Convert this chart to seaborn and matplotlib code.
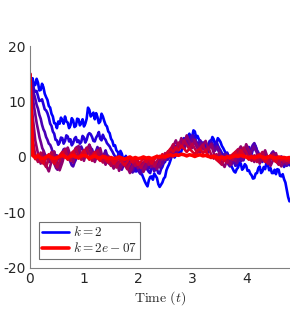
import numpy as np
import pandas as pd
import matplotlib
matplotlib.use("Agg")
import matplotlib.pyplot as plt
import seaborn as sns

# every trajectory is sampled evenly on [0, t_end]
t_end = 4.8

k_labels = ["2", "2e-01", "2e-02", "2e-03", "2e-04", "2e-05", "2e-06", "2e-07"]

y_k0 = [15.0, 13.6, 14.2, 12.9, 13.0, 14.1, 13.4, 12.0, 12.1, 13.2, 12.6, 11.4, 10.8, 10.3, 9.2, 8.9,
        7.8, 7.3, 6.1, 6.0, 5.2, 6.4, 6.0, 7.1, 6.6, 6.0, 7.3, 6.4, 6.2, 5.2, 5.7, 7.0, 6.6, 5.4,
        5.6, 6.9, 6.8, 5.7, 6.1, 6.8, 5.5, 6.0, 6.9, 8.9, 8.5, 7.3, 7.6, 8.0, 6.8, 7.9, 7.2, 6.1,
        6.4, 7.8, 7.3, 6.5, 5.8, 5.5, 4.6, 4.3, 3.3, 2.9, 2.0, 2.1, 1.2, 0.9, 0.3, 1.1, 0.6, -0.4,
        -0.5, 0.2, -1.1, -1.4, -0.4, -0.9, -1.6, -1.2, -2.1, -2.6, -1.7, -2.2, -2.9, -3.2, -3.8,
        -4.4, -4.9, -5.3, -4.2, -3.6, -3.5, -4.1, -3.0, -3.4, -3.8, -4.9, -5.4, -5.0, -4.6, -3.9,
        -3.6, -2.4, -1.8, -1.3, -0.6, 0.2, 0.8, -0.1, 0.3, 1.4, 1.2, 0.4, 1.0, 1.9, 2.4, 2.2, 3.1,
        3.8, 4.2, 3.3, 3.6, 4.8, 4.6, 3.5, 3.8, 3.2, 2.7, 1.9, 1.5, 2.6, 2.2, 1.0, 0.9, 2.1, 2.8,
        3.6, 3.2, 2.1, 2.4, 3.4, 3.1, 2.7, 2.0, 1.6, 1.1, 0.7, 0.2, -0.1, -0.9, -1.6, -2.1, -2.6,
        -2.8, -2.2, -1.9, -1.0, -1.2, -2.3, -2.0, -1.3, -1.6, -2.5, -2.4, -3.0, -3.3, -3.9, -3.8,
        -3.0, -2.9, -2.0, -1.7, -2.9, -2.6, -1.8, -2.2, -1.0, -1.3, -2.4, -2.0, -2.9, -2.9, -2.3,
        -3.1, -2.2, -2.3, -3.4, -3.5, -3.1, -4.0, -4.6, -5.9, -7.2, -8.0]
y_k1 = [15.0, 14.1, 13.5, 12.2, 11.8, 11.9, 11.0, 10.1, 10.2, 10.4, 9.5, 8.6, 8.4, 7.9, 7.1, 6.0,
        5.6, 4.6, 4.2, 3.1, 3.0, 2.2, 2.6, 3.5, 3.4, 2.4, 2.9, 3.9, 3.7, 2.8, 3.2, 2.1, 2.5, 3.3,
        3.6, 2.7, 3.0, 2.4, 2.7, 3.8, 3.5, 2.6, 3.1, 4.0, 4.3, 4.1, 3.6, 2.9, 2.8, 3.5, 3.9, 4.5,
        3.3, 3.0, 4.0, 3.4, 3.1, 2.5, 2.2, 1.9, 1.4, 1.0, 0.5, 0.1, -0.3, 0.2, 0.6, -0.4, -0.8,
        -1.1, -1.5, -0.4, -0.7, -1.4, -2.0, -1.6, -1.4, -2.5, -2.6, -2.1, -1.9, -2.8, -3.1, -2.0,
        -2.4, -1.5, -1.6, -2.3, -2.7, -2.9, -2.0, -1.2, -1.1, -1.8, -2.2, -2.9, -3.0, -2.2, -1.8,
        -1.1, -0.9, -0.2, 0.4, 1.0, 1.3, 0.5, 0.6, 1.5, 2.0, 1.3, 1.5, 2.3, 2.7, 3.1, 3.4, 2.6,
        2.2, 3.0, 3.8, 3.3, 2.9, 3.9, 3.6, 2.8, 2.5, 2.1, 1.7, 2.4, 2.6, 1.8, 1.2, 1.6, 2.3, 2.9,
        3.0, 2.2, 1.9, 2.3, 2.8, 2.1, 1.6, 1.2, 0.7, -0.1, -0.4, 0.3, 0.8, -0.3, -1.2, -1.0, -0.3,
        -0.9, -1.6, -1.5, -0.8, -0.1, 0.4, 0.1, -0.6, 0.3, 0.9, 1.6, 1.8, 1.0, 0.5, 1.4, 2.3, 1.9,
        1.1, 0.4, 0.2, -0.5, -0.9, -0.2, 0.3, -0.4, -1.4, -1.1, -0.5, 0.2, 0.8, 0.4, -0.2, -0.9,
        -1.3, -0.8, -0.4, -1.1, -1.8, -1.3, -0.7, -1.0, -1.5]
y_k2 = [15.0, 13.8, 12.6, 11.4, 10.5, 9.4, 8.7, 7.6, 6.9, 5.8, 5.0, 4.5, 3.6, 3.1, 2.4, 2.2, 1.6,
        0.8, 0.9, 0.0, 0.3, -0.2, -0.6, 0.1, 0.8, 1.4, 1.5, 0.8, 0.4, -0.3, -0.9, -1.5, -1.7,
        -1.0, -0.5, 0.3, 0.7, 1.4, 1.9, 1.3, 1.1, 0.5, 0.2, 1.3, 2.2, 1.6, 1.4, 0.6, 0.3, 1.1,
        1.8, 1.0, 0.6, 0.0, -0.4, 0.5, 1.2, 0.4, 0.1, -0.6, -1.1, -0.5, -0.3, -1.2, -1.8, -1.2,
        -0.9, -1.8, -2.3, -1.7, -1.4, -0.8, -0.6, -1.4, -1.9, -2.5, -2.8, -2.0, -1.5, -1.9, -2.2,
        -2.7, -3.0, -2.3, -1.7, -1.1, -0.8, -1.6, -2.1, -1.5, -1.2, -2.0, -2.6, -1.9, -1.5, -0.8,
        -0.4, -0.9, -1.3, -0.5, 0.2, -0.3, -0.5, 0.3, 0.9, 1.4, 1.6, 1.0, 0.7, 1.5, 2.1, 2.6, 2.9,
        2.2, 1.8, 2.6, 3.3, 2.8, 2.4, 3.3, 3.9, 3.2, 2.7, 2.2, 1.9, 2.5, 3.0, 2.6, 2.2, 1.5, 1.0,
        1.6, 1.9, 2.3, 2.6, 1.8, 1.3, 1.8, 2.0, 1.4, 0.8, 0.2, -0.2, 0.3, 0.6, -0.2, -0.9, -1.4,
        -1.7, -1.1, -0.6, -1.0, -1.3, -0.5, 0.1, -0.4, -0.8, -0.1, 0.5, 1.0, 1.3, 0.8, 0.4, 1.0,
        1.7, 2.2, 2.5, 1.9, 1.2, 0.8, 0.3, -0.2, -0.6, 0.0, 0.5, -0.3, -0.9, -0.4, 0.2, 0.7, 1.0,
        0.3, -0.3, -0.8, -1.1, -0.5, 0.1, -0.4, -0.8, -1.3, -1.6, -1.2, -0.9]
y_k3 = [15.0, 12.8, 11.0, 9.1, 7.6, 6.0, 4.8, 3.5, 2.6, 1.6, 1.1, 0.4, 0.2, -0.5, -0.9, -0.1, 0.5,
        -0.6, -1.4, -2.0, -2.3, -1.6, -1.2, -0.3, 0.4, 1.0, 1.3, 0.8, 0.6, -0.2, -0.5, 0.3, 0.9,
        1.5, 1.8, 1.1, 0.7, 0.0, -0.3, 0.4, 0.8, 1.4, 1.6, 0.9, 0.5, -0.3, -0.6, 0.1, 0.3, 0.8,
        1.1, 0.4, -0.2, 0.3, 0.6, -0.2, -0.7, -1.1, -1.3, -0.6, -0.4, -1.0, -1.5, -1.2, -0.8,
        -1.5, -2.0, -1.4, -1.1, -0.5, -0.3, -1.0, -1.6, -2.1, -2.4, -1.7, -1.3, -0.8, -0.6, -1.3,
        -1.8, -1.2, -1.0, -1.7, -2.2, -1.6, -1.4, -0.8, -0.5, -1.2, -1.7, -1.1, -0.9, -1.5, -1.9,
        -1.4, -1.2, -0.6, -0.3, 0.2, 0.5, 0.0, -0.2, 0.5, 1.1, 0.6, 0.4, 1.2, 1.8, 2.3, 2.6, 1.9,
        1.5, 2.3, 2.9, 2.3, 2.0, 2.7, 3.2, 2.6, 2.3, 1.7, 1.4, 2.1, 2.5, 1.9, 1.6, 1.0, 0.8, 1.3,
        1.7, 2.1, 2.4, 1.6, 1.1, 1.5, 1.8, 1.1, 0.6, 0.1, -0.3, 0.2, 0.5, -0.2, -0.8, -1.1, -1.4,
        -0.8, -0.4, -0.7, -1.1, -0.4, 0.2, -0.3, -0.6, 0.1, 0.7, 1.1, 1.5, 0.9, 0.6, 1.3, 1.9,
        1.4, 1.0, 0.4, 0.1, -0.3, -0.7, -0.2, 0.4, -0.4, -1.0, -0.5, 0.1, 0.6, 0.9, 0.3, -0.2,
        -0.8, -1.2, -0.6, -0.4, -0.9, -1.3, -0.8, -0.5, -0.7, -1.0]
y_k4 = [15.0, 7.5, 3.0, 0.6, -1.2, 0.9, -1.5, -2.6, -0.8, 1.0,
        -0.9, -2.4, -1.0, 0.8, 1.7, 0.3, -1.0, 0.9, 2.0, 0.5,
        -0.7, 1.1, 2.2, 0.6, -0.9, 0.4, 1.6, -0.3, -1.4, 0.2,
        -1.0, -2.1, -0.6, -2.5, -1.3, -0.3, -1.8, -2.9, -1.5, -0.4,
        -2.0, -1.0, -2.7, -1.5, -0.3, -1.8, -0.8, -2.2, -1.1, 0.3,
        -0.5, 1.0, 0.2, 1.9, 3.0, 1.6, 3.4, 2.3, 3.9, 2.7,
        1.6, 3.1, 1.9, 0.8, 2.2, 2.9, 1.3, 2.3, 0.7, -0.4,
        0.7, -1.0, -1.8, -0.5, -1.4, 0.4, -0.7, 1.1, 1.9, 0.6,
        2.3, 1.2, 0.0, -0.9, 0.5, -1.2, 0.2, 1.2, -0.2, -1.6,
        -0.5, 0.7, -0.9, -1.7, -0.5, -1.2, -0.7]
y_k5 = [15.0, 3.5, 0.2, -0.9, 0.8, -1.0, -1.8, -0.3, 0.9, -0.7,
        -1.9, -0.8, 0.5, 1.4, 0.2, -0.7, 0.7, 1.6, 0.3, -0.5,
        0.9, 1.7, 0.5, -0.7, 0.2, 1.2, -0.2, -1.0, 0.2, -0.7,
        -1.6, -0.5, -1.9, -1.0, -0.2, -1.4, -2.2, -1.2, -0.3, -1.6,
        -0.7, -2.0, -1.2, -0.2, -1.4, -0.5, -1.7, -0.8, 0.2, -0.4,
        0.7, 0.0, 1.4, 2.3, 1.2, 2.6, 1.7, 3.0, 2.2, 1.4,
        2.4, 1.5, 0.7, 1.7, 2.2, 1.0, 1.7, 0.5, -0.3, 0.5,
        -0.9, -1.4, -0.3, -1.0, 0.3, -0.5, 0.9, 1.4, 0.5, 1.7,
        0.9, 0.0, -0.7, 0.3, -0.9, 0.2, 0.9, -0.2, -1.2, -0.3,
        0.5, -0.7, -1.4, -0.3, -0.9, -0.5, -1.0]
y_k6 = [15.0, 1.0, -0.4, 0.5, -0.7, -1.2, -0.2, 0.5, -0.5, -1.2,
        -0.5, 0.3, 0.9, 0.2, -0.5, 0.5, 1.0, 0.2, -0.3, 0.5,
        1.2, 0.3, -0.5, 0.2, 0.9, -0.2, -0.7, 0.2, -0.5, -1.0,
        -0.3, -1.2, -0.7, -0.2, -0.9, -1.5, -0.9, -0.2, -1.0, -0.5,
        -1.4, -0.9, -0.2, -0.9, -0.3, -1.2, -0.5, 0.2, -0.2, 0.5,
        0.0, 0.9, 1.5, 0.9, 1.7, 1.2, 2.0, 1.5, 0.9, 1.5,
        1.0, 0.5, 1.2, 1.5, 0.7, 1.2, 0.3, -0.2, 0.3, -0.5,
        -0.9, -0.2, -0.7, 0.2, -0.3, 0.5, 0.9, 0.3, 1.2, 0.5,
        0.0, -0.5, 0.2, -0.5, 0.2, 0.5, -0.2, -0.9, -0.2, 0.3,
        -0.5, -0.9, -0.2, -0.5, -0.3, -0.7, -0.5]
y_k7 = [15.0, 0.3, -0.1, 0.2, -0.2, -0.3, 0.0, 0.2, -0.1, -0.3,
        -0.1, 0.1, 0.3, 0.0, -0.2, 0.1, 0.3, 0.0, -0.1, 0.2,
        0.3, 0.1, -0.2, 0.0, 0.2, -0.1, -0.2, 0.1, -0.1, -0.3,
        -0.1, -0.3, -0.2, 0.0, -0.2, -0.4, -0.2, 0.0, -0.3, -0.1,
        -0.3, -0.2, 0.0, -0.2, -0.1, -0.3, -0.1, 0.1, 0.0, 0.1,
        0.0, 0.2, 0.4, 0.2, 0.4, 0.3, 0.5, 0.4, 0.2, 0.4,
        0.3, 0.1, 0.3, 0.4, 0.2, 0.3, 0.1, 0.0, 0.1, -0.1,
        -0.2, 0.0, -0.2, 0.0, -0.1, 0.1, 0.2, 0.1, 0.3, 0.1,
        0.0, -0.1, 0.0, -0.1, 0.0, 0.1, 0.0, -0.2, 0.0, 0.1,
        -0.1, -0.2, 0.0, -0.1, -0.1, -0.2, -0.1]

series = [y_k0, y_k1, y_k2, y_k3, y_k4, y_k5, y_k6, y_k7]

frames = []
for lab, ys in zip(k_labels, series):
    frames.append(pd.DataFrame({"t": np.linspace(0, t_end, len(ys)), "y": ys, "k": lab}))
df = pd.concat(frames, ignore_index=True)

n = len(k_labels)
palette = {lab: (i / (n - 1), 0.0, 1 - i / (n - 1)) for i, lab in enumerate(k_labels)}

sns.set_style("white")
plt.rcParams["mathtext.fontset"] = "cm"
plt.rcParams["font.family"] = ["DejaVu Sans"]

fig = plt.figure(figsize=(2.90, 3.34), dpi=100)
ax = fig.add_axes([0.103, 0.198, 0.897, 0.664])

for i, lab in enumerate(k_labels):
    sub = df[df["k"] == lab]
    sns.lineplot(data=sub, x="t", y="y", color=palette[lab],
                 lw=2.6 if i == n - 1 else 1.9, ax=ax, legend=False,
                 estimator=None, sort=False)

ax.set_xlim(0, 4.81)
ax.set_ylim(-20, 20)
ax.set_xticks([0, 1, 2, 3, 4])
ax.set_yticks([-20, -10, 0, 10, 20])
ax.set_yticklabels(["-20", "-10", "0", "10", "20"])
ax.set_ylabel("")
ax.set_xlabel(r"$\mathrm{Time}\ (t)$", fontsize=10, color="0.15", labelpad=2)
for s in ["top", "right"]:
    ax.spines[s].set_visible(False)
for s in ["left", "bottom"]:
    ax.spines[s].set_color("0.5")
    ax.spines[s].set_linewidth(0.8)
ax.tick_params(direction="in", length=3, width=0.6, color="0.5",
               labelsize=10, labelcolor="0.15", pad=3)

lines = ax.get_lines()
leg = ax.legend([lines[0], lines[-1]], [r"$k = 2$", r"$k = 2e-07$"],
                loc="lower left", bbox_to_anchor=(0.025, 0.03),
                fontsize=9.5, frameon=True, fancybox=False,
                handlelength=2.0, handletextpad=0.3, borderpad=0.25,
                labelspacing=0.15, borderaxespad=0.2)
leg.get_frame().set_edgecolor("0.3")
leg.get_frame().set_linewidth(0.8)

fig.savefig("out.png", dpi=100)
